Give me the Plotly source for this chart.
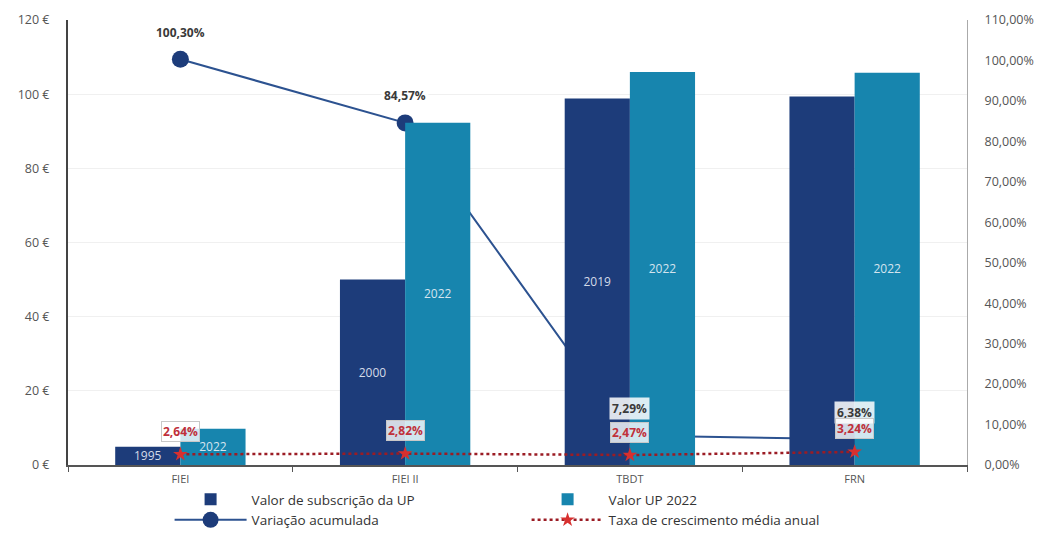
import plotly.graph_objects as go

categories = ["FIEI", "FIEI II", "TBDT", "FRN"]
subscricao = [4.9, 50.0, 98.8, 99.4]
subscricao_years = ["1995", "2000", "2019", ""]
valor_2022 = [9.8, 92.3, 106.0, 105.8]
valor_2022_years = ["2022", "2022", "2022", "2022"]
variacao = [100.30, 84.57, 7.29, 6.38]
variacao_labels = ["100,30%", "84,57%", "7,29%", "6,38%"]
taxa = [2.64, 2.82, 2.47, 3.24]
taxa_labels = ["2,64%", "2,82%", "2,47%", "3,24%"]

eur_ticks = [0, 20, 40, 60, 80, 100, 120]
eur_text = ["0 €", "20 €", "40 €", "60 €", "80 €", "100 €", "120 €"]
pct_ticks = [0, 10, 20, 30, 40, 50, 60, 70, 80, 90, 100, 110]
pct_text = ["0,00%", "10,00%", "20,00%", "30,00%", "40,00%", "50,00%",
            "60,00%", "70,00%", "80,00%", "90,00%", "100,00%", "110,00%"]

DARK = "#1d3c7a"
LIGHT = "#1785ae"
LINE = "#2c5290"
RED = "#9b1c24"

fig = go.Figure()

# line on base (percent) axis -> drawn beneath the bars
fig.add_trace(go.Scatter(
    x=categories, y=variacao, yaxis="y", name="Variação acumulada",
    mode="lines+markers",
    line=dict(color=LINE, width=2),
    marker=dict(color=DARK, size=17, symbol="circle"),
    legendrank=3,
))

fig.add_trace(go.Bar(
    x=categories, y=subscricao, yaxis="y2", name="Valor de subscrição da UP",
    marker=dict(color=DARK, line=dict(width=0)),
    text=subscricao_years, textposition="inside", insidetextanchor="middle",
    constraintext="none",
    textfont=dict(color="#d4dbe8", size=12, family="Open Sans"),
    legendrank=1,
))
fig.add_trace(go.Bar(
    x=categories, y=valor_2022, yaxis="y2", name="Valor UP 2022",
    marker=dict(color=LIGHT, line=dict(width=0)),
    text=valor_2022_years, textposition="inside", insidetextanchor="middle",
    constraintext="none",
    textfont=dict(color="#d4e4ee", size=12, family="Open Sans"),
    legendrank=2,
))

fig.add_trace(go.Scatter(
    x=categories, y=taxa, yaxis="y3", name="Taxa de crescimento média anual",
    mode="lines+markers",
    line=dict(color=RED, width=2.5, dash="dot"),
    marker=dict(color="#d8302f", size=11, symbol="star"),
    legendrank=4,
))

annotations = []
for c, v, t in zip(categories, variacao, variacao_labels):
    annotations.append(dict(
        x=c, y=v, xref="x", yref="y", text="<b>" + t + "</b>", showarrow=False,
        yshift=27, font=dict(size=12, color="#3a3a3a", family="Open Sans"),
        bgcolor="rgba(255,255,255,0.85)", borderpad=2,
    ))
for c, v, t in zip(categories, taxa, taxa_labels):
    annotations.append(dict(
        x=c, y=v, xref="x", yref="y3", text="<b>" + t + "</b>", showarrow=False,
        yshift=23, font=dict(size=12, color="#c0303a", family="Open Sans"),
        bgcolor="rgba(255,255,255,0.8)", bordercolor="#c8c8c8", borderwidth=1,
        borderpad=1,
    ))

fig.update_layout(
    width=1052, height=550,
    margin=dict(l=68, r=85, t=20, b=85, autoexpand=False),
    paper_bgcolor="white", plot_bgcolor="white",
    barmode="group", bargap=0.42, bargroupgap=0,
    font=dict(family="Open Sans", color="#555555", size=11),
    xaxis=dict(
        showline=True, linecolor="#555555", linewidth=2,
        ticks="outside", tickson="boundaries", ticklen=5, tickcolor="#555555",
        tickfont=dict(size=11, color="#555555"), ticklabelstandoff=3,
    ),
    yaxis=dict(
        side="right", range=[0, 110], tickvals=pct_ticks, ticktext=pct_text,
        showgrid=False, showline=True, linecolor="#aaaaaa", linewidth=1,
        zeroline=False, tickfont=dict(size=12.5, color="#555555"), ticklabelstandoff=14,
    ),
    yaxis2=dict(
        overlaying="y", side="left", range=[0, 120], tickvals=eur_ticks,
        ticktext=eur_text, showgrid=True, gridcolor="#f0f0f0",
        showline=True, linecolor="#444444", linewidth=2, zeroline=False,
        tickfont=dict(size=12.5, color="#555555"), ticklabelstandoff=14,
    ),
    yaxis3=dict(
        overlaying="y", range=[0, 110], visible=False,
    ),
    legend=dict(
        orientation="h", x=0.113, xanchor="left",
        yref="container", y=0.12, yanchor="top",
        itemwidth=72,
        entrywidth=270, entrywidthmode="pixels",
        font=dict(size=13.5, color="#333333"), traceorder="normal",
        tracegroupgap=0,
    ),
    annotations=annotations,
)

fig.write_html("out.html")
